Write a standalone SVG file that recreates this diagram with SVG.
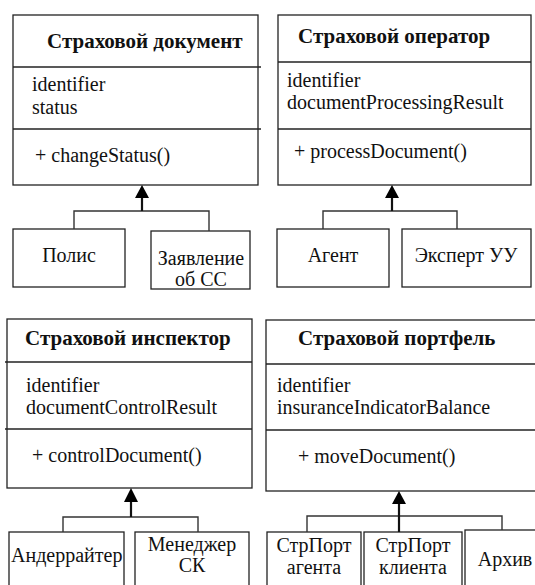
<svg xmlns="http://www.w3.org/2000/svg" width="535" height="585" viewBox="0 0 535 585">
  <style>
    .box { fill: #fff; stroke: #222; stroke-width: 1.3; }
    .sep { stroke: #222; stroke-width: 1.6; fill: none; }
    text { font-family: 'Liberation Serif', serif; font-size: 20px; fill: #111; }
    .title { font-weight: bold; font-size: 21px; }
    .mid { text-anchor: middle; }
    .line { stroke: #333; stroke-width: 1.4; fill: none; }
    .stem { stroke: #111; stroke-width: 2.2; fill: none; }
    .head { fill: #000; }
  </style>
  <rect width="535" height="585" fill="#fff"/>

  <!-- Class: insurance document -->
  <g id="doc">
    <rect class="box" x="13" y="15" width="245" height="170"/>
    <line class="sep" x1="13" y1="67" x2="261" y2="67"/>
    <line class="sep" x1="13" y1="129" x2="261" y2="129"/>
    <text class="title" x="47" y="48">Страховой документ</text>
    <text x="32" y="91">identifier</text>
    <text x="32" y="114">status</text>
    <text x="35" y="162">+ changeStatus()</text>
  </g>
  <g id="polis">
    <rect class="box" x="13" y="229" width="112" height="58"/>
    <text class="mid" x="69" y="262">Полис</text>
  </g>
  <g id="zayavlenie">
    <rect class="box" x="151" y="231" width="99" height="58"/>
    <text class="mid" x="201" y="265">Заявление</text>
    <text class="mid" x="201" y="286">об СС</text>
  </g>

  <!-- Class: insurance operator -->
  <g id="operator">
    <rect class="box" x="278" y="15" width="253" height="170"/>
    <line class="sep" x1="278" y1="62" x2="531" y2="62"/>
    <line class="sep" x1="278" y1="129" x2="531" y2="129"/>
    <text class="title" x="298" y="43">Страховой оператор</text>
    <text x="287" y="87">identifier</text>
    <text x="287" y="109">documentProcessingResult</text>
    <text x="294" y="158">+ processDocument()</text>
  </g>
  <g id="agent">
    <rect class="box" x="277" y="229" width="112" height="58"/>
    <text class="mid" x="333" y="262">Агент</text>
  </g>
  <g id="expert">
    <rect class="box" x="402" y="229" width="129" height="58"/>
    <text class="mid" x="466" y="262">Эксперт УУ</text>
  </g>

  <!-- Class: insurance inspector -->
  <g id="inspector">
    <rect class="box" x="7" y="319" width="245" height="169"/>
    <line class="sep" x1="5" y1="362" x2="252" y2="362"/>
    <line class="sep" x1="5" y1="429" x2="252" y2="429"/>
    <text class="title" x="25" y="345">Страховой инспектор</text>
    <text x="26" y="392">identifier</text>
    <text x="26" y="414">documentControlResult</text>
    <text x="32" y="462">+ controlDocument()</text>
  </g>
  <g id="underwriter">
    <rect class="box" x="9" y="532" width="115" height="60"/>
    <text x="11" y="562">Андеррайтер</text>
  </g>
  <g id="manager">
    <rect class="box" x="135" y="532" width="114" height="60"/>
    <text class="mid" x="192" y="551">Менеджер</text>
    <text class="mid" x="192" y="572">СК</text>
  </g>

  <!-- Class: insurance portfolio -->
  <g id="portfolio">
    <rect class="box" x="266" y="320" width="275" height="171"/>
    <line class="sep" x1="266" y1="364" x2="535" y2="364"/>
    <line class="sep" x1="266" y1="430" x2="535" y2="430"/>
    <text class="title" x="298" y="345">Страховой портфель</text>
    <text x="277" y="392">identifier</text>
    <text x="277" y="414">insuranceIndicatorBalance</text>
    <text x="298" y="463">+ moveDocument()</text>
  </g>
  <g id="port-agent">
    <rect class="box" x="267" y="532" width="94" height="60"/>
    <text class="mid" x="314" y="552">СтрПорт</text>
    <text class="mid" x="314" y="574">агента</text>
  </g>
  <g id="port-client">
    <rect class="box" x="364" y="532" width="98" height="60"/>
    <text class="mid" x="413" y="552">СтрПорт</text>
    <text class="mid" x="413" y="574">клиента</text>
  </g>
  <g id="archive">
    <rect class="box" x="465" y="530" width="80" height="60"/>
    <text class="mid" x="505" y="566">Архив</text>
  </g>

  <!-- Generalization connectors -->
  <g id="connectors">
    <path class="line" d="M74 229 V211 H209 V231"/>
    <path class="stem" d="M142 211 V197"/>
    <polygon class="head" points="142,185 135,198 149,198"/>

    <path class="line" d="M323 229 V211 H457 V229"/>
    <path class="stem" d="M392 211 V197"/>
    <polygon class="head" points="392,185 385,198 399,198"/>

    <path class="line" d="M63 532 V517 H198 V532"/>
    <path class="stem" d="M131 517 V501"/>
    <polygon class="head" points="131,488 124,502 138,502"/>

    <path class="line" d="M307 532 V516 H502 V530"/>
    <path class="stem" d="M399 532 V503"/>
    <polygon class="head" points="399,491 392,504 406,504"/>
  </g>
</svg>
